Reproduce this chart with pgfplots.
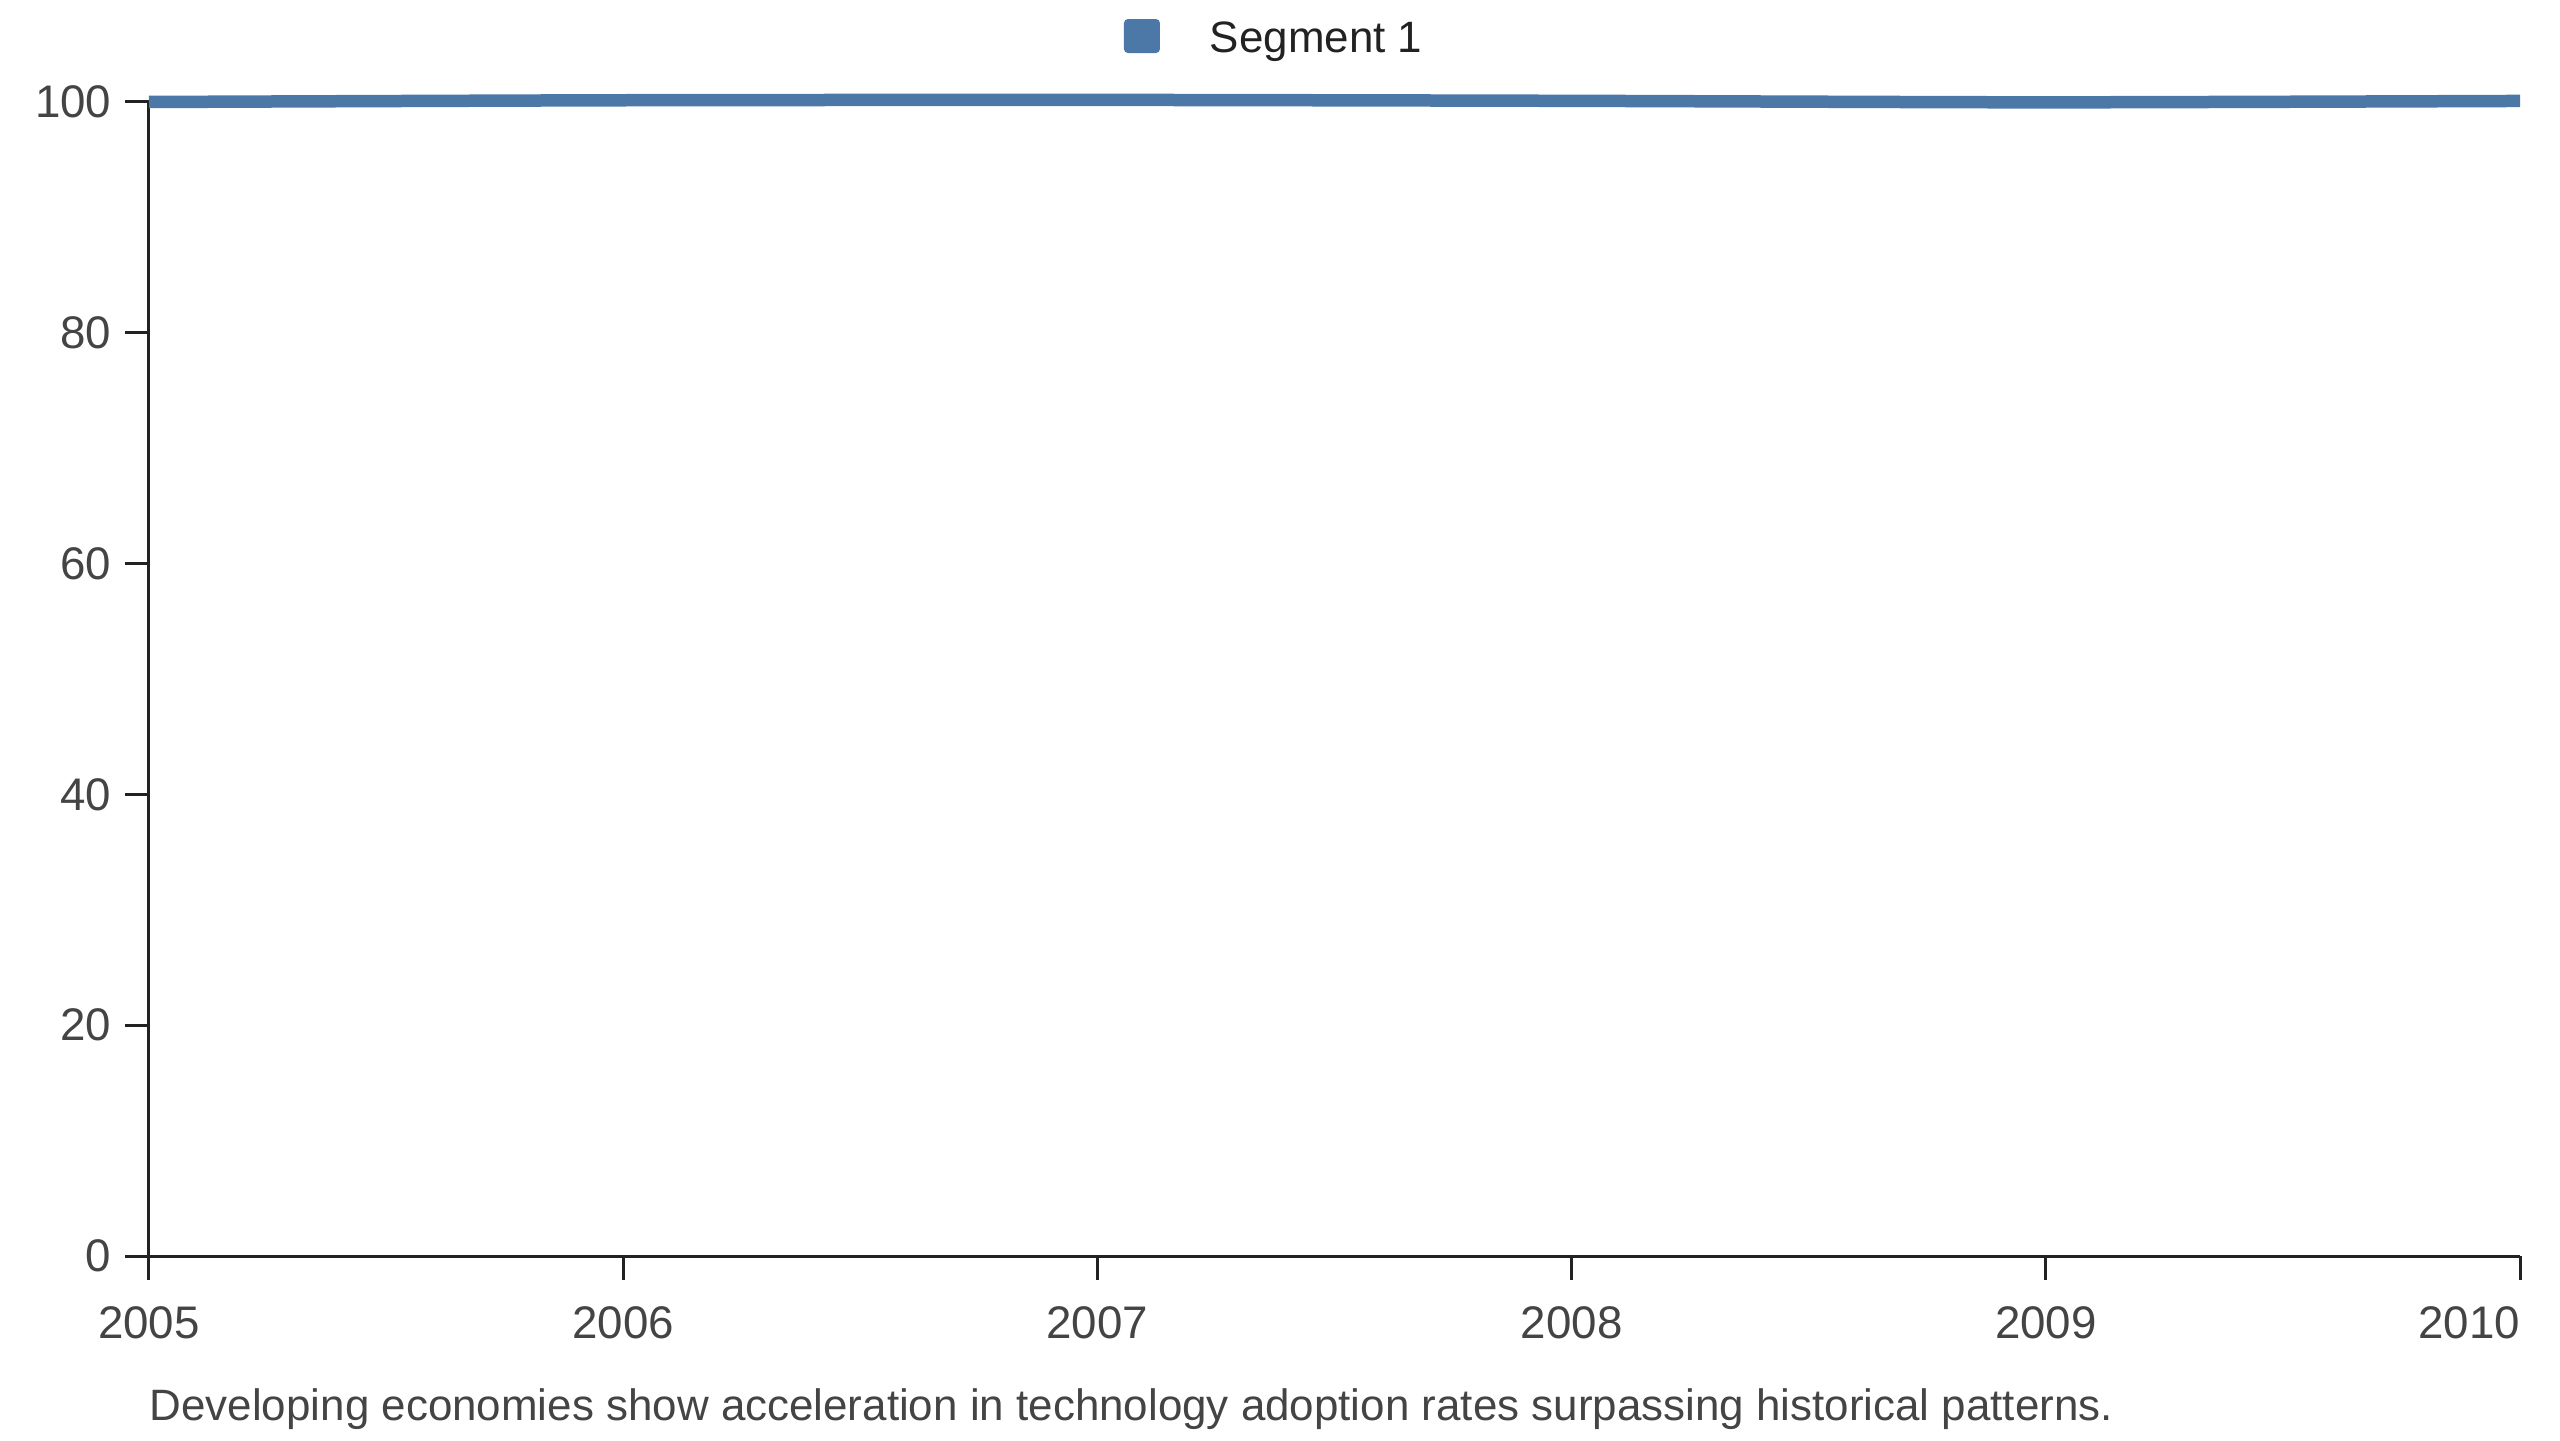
\documentclass[border=0pt]{standalone}
\usepackage{fontspec}
\setmainfont{Liberation Sans}
\usepackage{pgfplots}
\pgfplotsset{compat=1.18}
\definecolor{segblue}{HTML}{4C78A8}
\definecolor{axisc}{HTML}{222222}
\definecolor{ticklab}{HTML}{444444}
\definecolor{capc}{HTML}{444444}
\begin{document}
\begin{tikzpicture}
\useasboundingbox (0,0) rectangle (256mm,144mm);
\begin{axis}[
  at={(14.9mm,18.4mm)}, anchor=south west,
  scale only axis,
  width=237.1mm, height=115.4mm,
  xmin=2005, xmax=2010, ymin=0, ymax=100,
  xtick={2005,2006,2007,2008,2009,2010},
  ytick={0,20,40,60,80,100},
  axis lines=left,
  axis line style={-, line width=0.3mm, color=axisc},
  every tick/.style={line width=0.3mm, color=axisc},
  tick align=outside,
  major tick length=2.4mm,
  clip=false,
  /pgf/number format/assume math mode=true,
  /pgf/number format/1000 sep={},
  tick label style={font=\fontsize{13}{15}\selectfont, text=ticklab},
  yticklabel style={inner sep=0pt, anchor=east, xshift=-1.3mm},
  xticklabel style={inner sep=0pt, anchor=north, yshift=-2.6mm},
  xticklabels={2005,2006,2007,2008,2009,\llap{2010}},
  legend style={at={(0.4112,1.0550)}, anchor=west, draw=none, fill=none,
    inner sep=0pt, outer sep=0pt,
    nodes={inner sep=0pt, font=\fontsize{12.5}{15}\selectfont, text=axisc}},
  legend image code/.code={
    \fill[segblue, draw=none, rounded corners=0.4mm] (0mm,-1.3mm) rectangle (3.6mm,2.1mm);
    \path[draw=none, fill=none] (3.6mm,0) -- (8.6mm,0);
  },
]
\addplot[segblue, line width=1.25mm, smooth, tension=0.4] coordinates {
  (2005,100.00) (2006,100.15) (2007,100.18) (2008,100.10) (2009,99.97) (2010,100.09)
};
\addlegendentry{Segment 1}
\end{axis}
\node[anchor=base west, inner sep=0pt, text=capc, font=\fontsize{12.5}{15}\selectfont] at (14.9mm,2.0mm)
  {Developing economies show acceleration in technology adoption rates surpassing historical patterns.};
\end{tikzpicture}
\end{document}
